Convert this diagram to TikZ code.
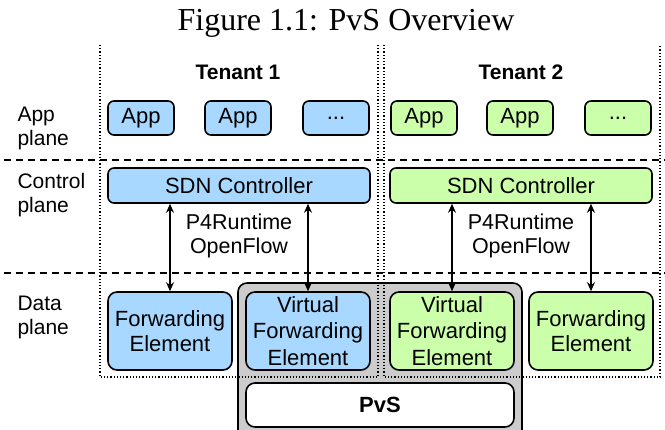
\documentclass[tikz,border=0pt]{standalone}
\usepackage{fontspec}
\setmainfont{Liberation Serif}
\setsansfont{Liberation Sans}
\usepackage{xcolor}
\usetikzlibrary{positioning, arrows.meta}

\definecolor{tblue}{HTML}{A8D8FF}
\definecolor{tgreen}{HTML}{CCFFAA}
\definecolor{pvsgray}{HTML}{CCCCCC}

\begin{document}
\begin{tikzpicture}[
    x=1pt, y=-1pt,
    box/.style={draw, line width=1.6pt, rounded corners=6pt, font=\sffamily\fontsize{22}{25}\selectfont, align=center, inner sep=0pt},
    app/.style={box, minimum width=66pt, minimum height=34pt},
    ctrl/.style={box, minimum width=262pt, minimum height=35pt},
    fwd/.style={box, rounded corners=9pt, minimum width=124pt, minimum height=78pt},
    plane/.style={anchor=west, align=left, font=\sffamily\fontsize{21}{24}\selectfont},
    tenant/.style={font=\sffamily\bfseries\fontsize{21}{23}\selectfont},
    proto/.style={align=center, font=\sffamily\fontsize{21.5}{24}\selectfont},
    border/.style={line width=1.2pt, dotted},
    sep/.style={line width=1.5pt, dash pattern=on 7pt off 5pt},
    link/.style={line width=1.6pt, {Stealth[length=9pt,width=8pt]}-{Stealth[length=9pt,width=8pt]}},
]
\useasboundingbox (0,0) rectangle (665,430);

% Title
\node[font=\fontsize{32}{34}\selectfont] (title) at (346,23) {Figure 1.1: PvS Overview};

% PvS container (runs off the bottom edge)
\begin{scope}
\clip (0,0) rectangle (665,430);
\node[draw, line width=1.6pt, rounded corners=9pt, fill=pvsgray, minimum width=284pt, minimum height=160pt] (host) at (380,363) {};
\end{scope}
\node[box, rounded corners=9pt, fill=white, minimum width=268pt, minimum height=44pt] (pvs) at (380,405) {\bfseries PvS};

% Tenant borders
\draw[border] (100,45) -- (100,377) -- (378,377) -- (378,45);
\draw[border] (384,45) -- (384,377) -- (660,377) -- (660,45);

% Plane separators
\draw[sep] (4,160) -- (665,160);
\draw[sep] (4,273) -- (665,273);

% Plane labels
\node[plane] (lapp) at (14,128) {App\\plane};
\node[plane] (lctrl) at (14,195) {Control\\plane};
\node[plane] (ldata) at (14,317) {Data\\plane};

% Tenants
\node[tenant] (t1) at (238,72) {Tenant 1};
\node[tenant] (t2) at (521,72) {Tenant 2};

% App plane
\node[app, fill=tblue] (a11) at (141,118) {App};
\node[app, fill=tblue] (a12) at (238,118) {App};
\node[app, fill=tblue] (a13) at (336,118) {...};
\node[app, fill=tgreen] (a21) at (424,118) {App};
\node[app, fill=tgreen] (a22) at (520,118) {App};
\node[app, fill=tgreen] (a23) at (618,118) {...};

% Control plane
\node[ctrl, fill=tblue] (sdn1) at (239,185.5) {SDN Controller};
\node[ctrl, fill=tgreen] (sdn2) at (521,185.5) {SDN Controller};
\node[proto] (p1) at (239,236) {P4Runtime\\OpenFlow};
\node[proto] (p2) at (521,236) {P4Runtime\\OpenFlow};

% Data plane
\node[fwd, fill=tblue] (fe1) at (170,331) {Forwarding\\Element};
\node[fwd, fill=tblue, font=\sffamily\fontsize{22}{26.5}\selectfont] (vfe1) at (308,331) {Virtual\\Forwarding\\Element};
\node[fwd, fill=tgreen, font=\sffamily\fontsize{22}{26.5}\selectfont] (vfe2) at (452,331) {Virtual\\Forwarding\\Element};
\node[fwd, fill=tgreen] (fe2) at (591,331) {Forwarding\\Element};

% Control links
\draw[link] (fe1.north |- sdn1.south) -- (fe1.north);
\draw[link] (vfe1.north |- sdn1.south) -- (vfe1.north);
\draw[link] (vfe2.north |- sdn2.south) -- (vfe2.north);
\draw[link] (fe2.north |- sdn2.south) -- (fe2.north);
\end{tikzpicture}
\end{document}
